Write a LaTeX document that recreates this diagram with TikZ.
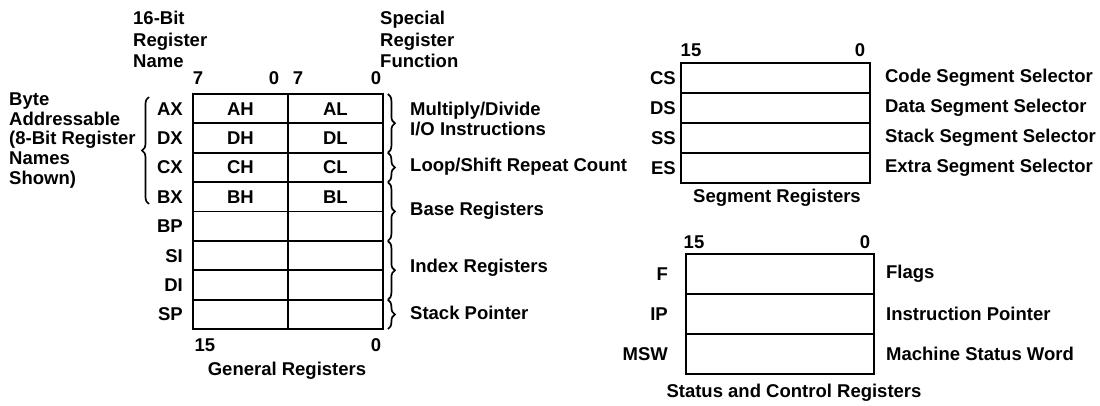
\documentclass[tikz,border=0pt]{standalone}
\usepackage{fontspec}
\setmainfont{Liberation Sans}
\usetikzlibrary{decorations.pathreplacing}
\begin{document}
\begin{tikzpicture}[x=1pt,y=-1pt,
  lbl/.style={font=\fontsize{18.5}{20}\selectfont\bfseries, inner sep=0pt},
  cell/.style={draw, line width=1.9pt, inner sep=0pt, anchor=north west, font=\fontsize{18.5}{20}\selectfont\bfseries},
  brc/.style={decorate, decoration={brace, amplitude=7pt}, line width=1.7pt}]
\fill[white] (0,0) rectangle (1100,406);
\useasboundingbox (0,0) rectangle (1100,406);

% headers
\node[lbl, align=left, anchor=west, font=\fontsize{18.5}{21.5}\selectfont\bfseries] (hname) at (133,39.5) {16-Bit\\Register\\Name};
\node[lbl, align=left, anchor=west, font=\fontsize{18.5}{21.5}\selectfont\bfseries] (hfunc) at (380,39.5) {Special\\Register\\Function};
\node[lbl, align=left, anchor=west, font=\fontsize{18.5}{19.8}\selectfont\bfseries] (byte) at (9,140.5) {Byte\\Addressable\\(8-Bit Register\\Names\\Shown)};

% bit numbers general
\node[lbl] (b7a) at (198,78) {7};
\node[lbl] (b0a) at (274,78) {0};
\node[lbl] (b7b) at (298,78) {7};
\node[lbl] (b0b) at (376,78) {0};

% general registers
\foreach \r/\h/\l [count=\i from 0] in {AX/AH/AL,DX/DH/DL,CX/CH/CL,BX/BH/BL,BP/ / ,SI/ / ,DI/ / ,SP/ / }{
  \pgfmathsetmacro\yy{93+29.4*\i}
  \node[cell, minimum width=95pt, minimum height=29.4pt] (gl\i) at (192,\yy) {\h};
  \node[cell, minimum width=95pt, minimum height=29.4pt] (gr\i) at (287,\yy) {\l};
  \node[lbl, anchor=east] (gn\i) at ([xshift=-9pt]gl\i.west) {\r};
}

% left brace
\coordinate (lbt) at (149,97);
\coordinate (lbb) at (149,204);
\draw[brc] (lbb) -- (lbt);

% right braces
\draw[brc] ([xshift=4pt,yshift=-1pt]gr0.north east) -- ([xshift=4pt,yshift=1pt]gr1.south east);
\draw[brc] ([xshift=4pt,yshift=-1pt]gr2.north east) -- ([xshift=4pt,yshift=1pt]gr2.south east);
\draw[brc] ([xshift=4pt,yshift=-1pt]gr3.north east) -- ([xshift=4pt,yshift=1pt]gr4.south east);
\draw[brc] ([xshift=4pt,yshift=-1pt]gr5.north east) -- ([xshift=4pt,yshift=1pt]gr6.south east);
\draw[brc] ([xshift=4pt,yshift=-1pt]gr7.north east) -- ([xshift=4pt,yshift=1pt]gr7.south east);

\node[lbl, align=left, anchor=west] (fmul) at (410,119) {Multiply/Divide\\I/O Instructions};
\node[lbl, anchor=west] (floop) at (410,167) {Loop/Shift Repeat Count};
\node[lbl, anchor=west] (fbase) at (410,211) {Base Registers};
\node[lbl, anchor=west] (findex) at (410,268) {Index Registers};
\node[lbl, anchor=west] (fstack) at (410,313) {Stack Pointer};

\node[lbl] (g15) at (205,345) {15};
\node[lbl] (g0) at (376,345) {0};
\node[lbl] (gtitle) at (287,371) {General Registers};

% segment registers
\node[lbl] (s15) at (691,50) {15};
\node[lbl] (s0) at (860,50) {0};
\foreach \r/\d [count=\i from 0] in {CS/Code Segment Selector,DS/Data Segment Selector,SS/Stack Segment Selector,ES/Extra Segment Selector}{
  \pgfmathsetmacro\yy{62+30*\i}
  \node[cell, minimum width=189pt, minimum height=30pt] (s\i) at (680,\yy) {};
  \node[lbl, anchor=east] (sn\i) at ([xshift=-4pt]s\i.west) {\r};
  \node[lbl, anchor=west] (sd\i) at ([xshift=14pt]s\i.east) {\d};
}
\node[lbl] (stitle) at (777,198) {Segment Registers};

% status and control registers
\node[lbl] (c15) at (694,242) {15};
\node[lbl] (c0) at (865,242) {0};
\foreach \r/\d [count=\i from 0] in {F/Flags,IP/Instruction Pointer,MSW/Machine Status Word}{
  \pgfmathsetmacro\yy{253+40*\i}
  \node[cell, minimum width=188pt, minimum height=40pt] (c\i) at (685,\yy) {};
  \node[lbl, anchor=east] (cn\i) at ([xshift=-17pt]c\i.west) {\r};
  \node[lbl, anchor=west] (cd\i) at ([xshift=11pt]c\i.east) {\d};
}
\node[lbl] (ctitle) at (794,393) {Status and Control Registers};
\end{tikzpicture}
\end{document}
